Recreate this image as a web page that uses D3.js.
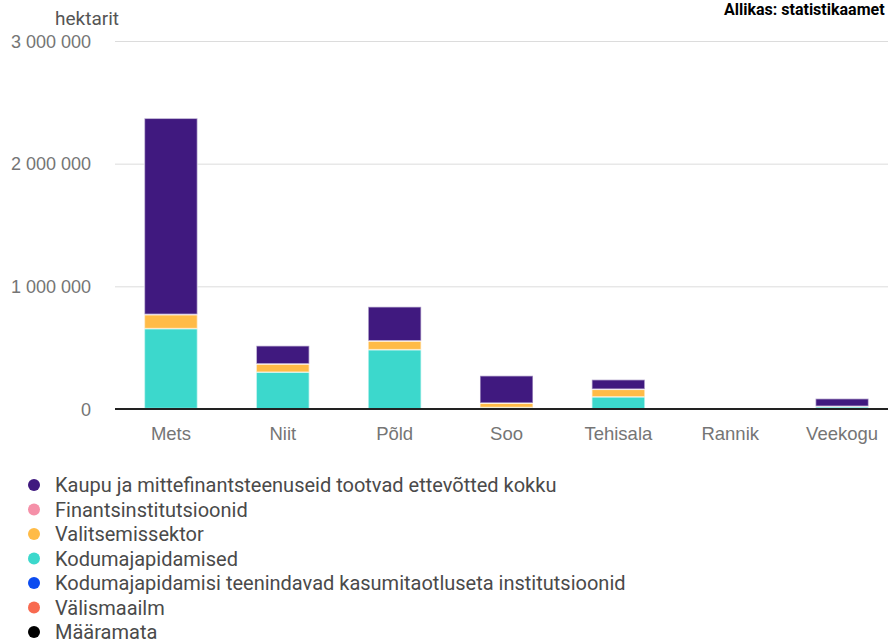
<!DOCTYPE html>
<html>
<head>
<meta charset="utf-8">
<script src="https://cdn.jsdelivr.net/npm/d3@7"></script>
<style>
  body { margin: 0; background: #fff; overflow: hidden; }
  svg { font-family: Roboto, "Noto Sans", sans-serif; display: block; }
</style>
</head>
<body>
<script>
// maakasutus sektorite kaupa, hektarit
var categories = ["Mets", "Niit", "Põld", "Soo", "Tehisala", "Rannik", "Veekogu"];
var seriesNames = [
  "Kaupu ja mittefinantsteenuseid tootvad ettevõtted kokku",
  "Finantsinstitutsioonid",
  "Valitsemissektor",
  "Kodumajapidamised",
  "Kodumajapidamisi teenindavad kasumitaotluseta institutsioonid",
  "Välismaailm",
  "Määramata"
];
var colors = ["#40197f", "#f590a8", "#ffbb47", "#3cd8cc", "#0c4cf0", "#f86a50", "#000000"];

var kaupu       = [1598000, 147000, 277000, 222000, 77000, 1500, 62000];
var finants     = [2000, 500, 1000, 300, 1500, 0, 200];
var valitsemine = [114000, 67000, 71000, 36000, 61000, 300, 4000];
var kodud       = [652000, 300000, 483000, 12000, 98000, 200, 18000];
var mtu         = [3000, 500, 800, 500, 1200, 0, 100];
var valismaailm = [500, 100, 100, 100, 200, 0, 0];
var maaramata   = [300, 100, 100, 100, 100, 0, 0];

var yTicks = [0, 1000000, 2000000, 3000000];

var W = 888, H = 644;
var margin = {left: 115, top: 41, bottom: 235};
var plotRight = 898;

var svg = d3.select("body").append("svg")
  .attr("width", W).attr("height", H);

var x = d3.scaleBand().domain(categories)
  .range([margin.left, plotRight]).paddingInner(0.526).paddingOuter(0.263);

var y = d3.scaleLinear().domain([0, 3000000]).range([H - margin.bottom, margin.top]);

var fmt = function (v) { return d3.format(",")(v).replace(/,/g, " "); };

// gridlines + y labels
var yAxis = svg.append("g").attr("transform", "translate(" + margin.left + ",0)")
  .call(d3.axisLeft(y).tickValues(yTicks).tickFormat(fmt)
        .tickSize(-(W - margin.left)).tickPadding(24));
yAxis.select(".domain").remove();
yAxis.selectAll(".tick line").attr("stroke", "#dcdcdc");
yAxis.selectAll(".tick text").attr("fill", "#757575").attr("font-size", 18)
  .attr("dy", "0.35em");

svg.append("text").attr("x", 55).attr("y", 25).attr("fill", "#555")
  .attr("font-size", 19).text("hektarit");

svg.append("text").attr("x", 724).attr("y", 15).attr("fill", "#000")
  .attr("font-size", 16).attr("font-weight", "bold").text("Allikas: statistikaamet");

// stack: bottom is the last legend entry
var table = categories.map(function (c, i) {
  return {cat: c, s0: kaupu[i], s1: finants[i], s2: valitsemine[i], s3: kodud[i],
          s4: mtu[i], s5: valismaailm[i], s6: maaramata[i]};
});
var keys = ["s6", "s5", "s4", "s3", "s2", "s1", "s0"];
var stacked = d3.stack().keys(keys)(table);

svg.append("g").selectAll("g")
  .data(stacked)
  .enter().append("g")
  .attr("fill", function (d) { return colors[+d.key.slice(1)]; })
  .selectAll("rect")
  .data(function (d) { return d; })
  .enter().append("rect")
  .attr("x", function (d) { return x(d.data.cat); })
  .attr("width", x.bandwidth())
  .attr("y", function (d) { return y(d[1]); })
  .attr("height", function (d) { return Math.max(0, y(d[0]) - y(d[1])); })
  .attr("stroke", "#fff").attr("stroke-opacity", 0.55).attr("stroke-width", 1.5);

// baseline
svg.append("line")
  .attr("x1", margin.left).attr("x2", W)
  .attr("y1", y(0)).attr("y2", y(0))
  .attr("stroke", "#222").attr("stroke-width", 2);

// category labels
var xAxis = svg.append("g").attr("transform", "translate(0," + y(0) + ")")
  .call(d3.axisBottom(x).tickSize(0).tickPadding(18));
xAxis.select(".domain").remove();
xAxis.selectAll(".tick text").attr("fill", "#757575").attr("font-size", 18.5);

// legend
var legend = svg.append("g").selectAll("g")
  .data(seriesNames)
  .enter().append("g")
  .attr("transform", function (d, i) { return "translate(34," + (485 + i * 24.5) + ")"; });
legend.append("circle").attr("r", 6).attr("fill", function (d, i) { return colors[i]; });
legend.append("text").attr("x", 21).attr("dy", "0.35em")
  .attr("fill", "#4a4a4a").attr("font-size", 20).text(function (d) { return d; });
</script>
</body>
</html>
